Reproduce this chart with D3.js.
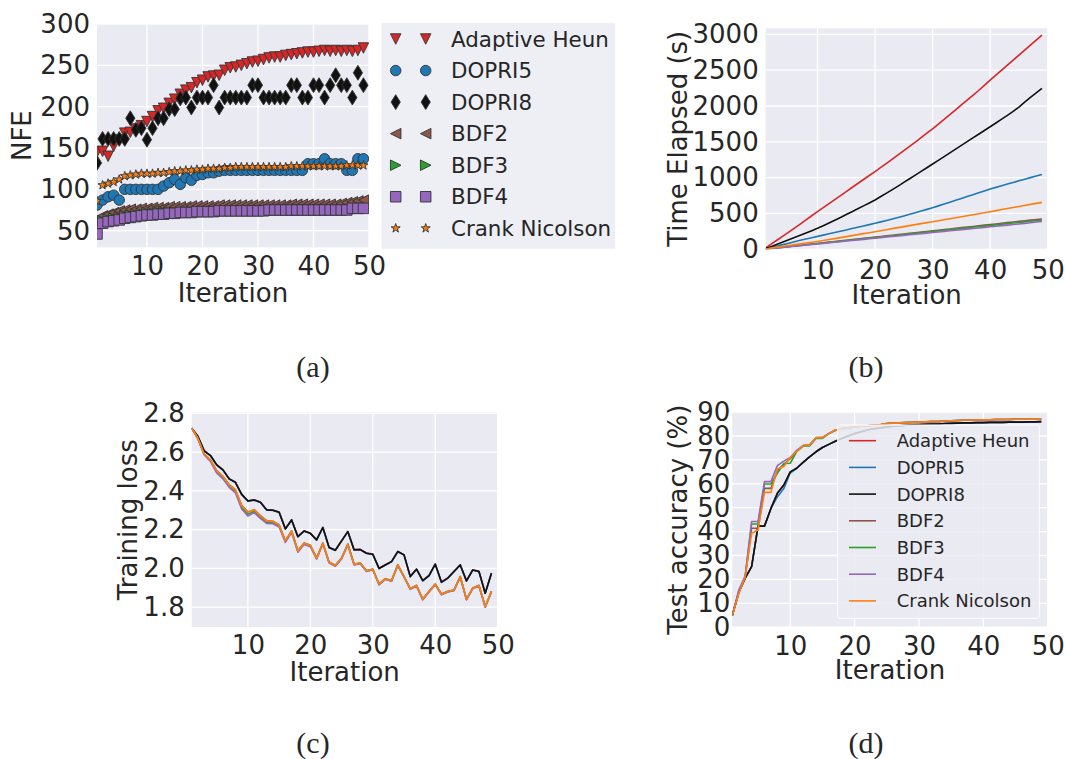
<!DOCTYPE html>
<html>
<head>
<meta charset="utf-8">
<script src="https://cdn.jsdelivr.net/npm/d3@7"></script>
<style>
  html, body { margin: 0; padding: 0; background: #fff; }
  svg { display: block; }
  text { font-family: "DejaVu Sans", sans-serif; fill: #262626; }
  .caption { font-family: "Liberation Serif", "DejaVu Serif", serif; }
</style>
</head>
<body>
<svg id="fig" width="1065" height="759"></svg>
<script>
// ---------------- data ----------------
const iterations = [1,2,3,4,5,6,7,8,9,10,11,12,13,14,15,16,17,18,19,20,21,22,23,24,25,
  26,27,28,29,30,31,32,33,34,35,36,37,38,39,40,41,42,43,44,45,46,47,48,49];

const solvers = ["Adaptive Heun", "DOPRI5", "DOPRI8", "BDF2", "BDF3", "BDF4", "Crank Nicolson"];
const solverColors = ["#d62728", "#1f77b4", "#111111", "#8c564b", "#2ca02c", "#9467bd", "#ff7f0e"];
const solverMarkers = ["triangleDown", "circle", "thinDiamond", "triangleLeft", "triangleRight", "square", "star"];

const xTicks = [10, 20, 30, 40, 50];
const nfeTicks = [50, 100, 150, 200, 250, 300];
const timeTicks = [0, 500, 1000, 1500, 2000, 2500, 3000];
const lossTicks = [1.8, 2.0, 2.2, 2.4, 2.6, 2.8];
const accTicks = [0, 10, 20, 30, 40, 50, 60, 70, 80, 90];

// number of function evaluations per iteration
const heunNFE = [145,146,140,152,160,168,169,173,177,182,188,195,198,204,209,215,220,223,229,232,
  236,237,238,244,247,248,250,252,254,255,257,259,260,260,262,263,264,265,266,266,
  267,268,267,268,267,268,267,268,271];
const dopri5NFE = [81,87,91,93,87,100,100,100,100,100,100,100,104,108,112,106,114,111,117,118,
  120,120,122,123,123,123,123,123,123,123,123,123,123,123,123,123,123,123,131,131,
  131,137,131,131,131,123,123,137,137];
const dopri8NFE = [132,161,161,161,161,161,186,172,174,160,174,186,186,197,197,210,211,199,211,211,
  211,226,199,211,211,211,211,211,226,226,211,211,211,211,211,226,226,211,211,226,
  226,211,226,238,226,226,211,241,226];
const bdf2NFE = [64,68,70,72,74,75,76,76,77,77,78,78,78,79,79,79,79,80,80,80,
  80,80,81,81,81,81,81,81,81,81,81,81,81,81,81,82,82,82,82,82,
  82,82,82,82,83,84,85,86,87];
const bdf3NFE = [47,62,64,65,66,68,69,70,71,72,72,73,73,73,72,72,72,72,73,73,
  73,73,74,74,74,74,74,74,74,74,74,75,75,75,75,75,75,75,75,75,
  75,75,75,75,75,75,77,77,77];
const bdf4NFE = [46,59,61,62,63,65,66,67,68,69,69,70,70,71,71,72,72,72,73,73,
  73,73,74,74,74,74,74,74,74,74,74,75,75,75,75,75,75,75,75,75,
  75,75,75,75,75,75,77,77,77];
const cnNFE = [86,105,107,109,112,116,117,118,119,119,119,120,120,121,122,122,123,123,124,124,
  125,125,125,126,126,127,127,127,127,127,127,127,127,127,127,128,128,128,128,128,
  128,128,128,128,128,129,129,129,129];

// cumulative wall-clock time (s)
const heunTime = [20,75,130,185,240,295,352,410,468,525,582,638,694,750,806,862,918,974,1030,1085,
  1142,1200,1258,1317,1376,1436,1497,1558,1620,1682,1748,1814,1880,1947,2014,2081,2148,2216,2288,2360,
  2430,2500,2570,2640,2710,2780,2850,2920,2990];
const dopri5Time = [5,25,45,65,85,105,125,143,162,180,198,216,234,252,270,289,307,326,344,363,
  383,403,424,445,466,488,510,533,557,581,606,632,658,684,710,736,762,788,814,841,
  864,887,910,933,956,978,1000,1022,1045];
const dopri8Time = [10,40,71,102,133,164,196,228,260,293,330,368,406,445,485,525,565,606,647,688,
  736,784,833,882,933,984,1035,1087,1138,1190,1242,1294,1346,1398,1450,1502,1554,1606,1658,1710,
  1763,1816,1870,1924,1985,2055,2120,2183,2246];
const bdf2Time = [3,12,21,30,38,47,56,65,73,82,91,100,108,117,126,135,143,152,161,170,
  178,187,196,205,214,222,231,240,249,258,266,275,284,293,302,310,319,328,337,346,
  354,363,372,381,390,398,407,415,423];
const bdf3Time = [3,11,20,28,37,45,54,62,71,79,88,96,104,113,121,130,138,147,155,164,
  172,180,189,197,206,214,223,231,240,248,256,265,273,282,290,299,307,316,324,332,
  341,349,358,366,375,383,392,398,405];
const bdf4Time = [3,11,19,27,35,43,51,59,67,75,83,91,99,107,115,123,131,139,147,155,
  163,171,178,186,194,202,210,218,226,234,242,250,258,266,274,282,290,298,306,314,
  322,330,338,346,354,362,370,380,390];
const cnTime = [5,17,29,41,53,65,76,87,98,110,123,136,149,163,177,191,205,219,232,246,
  260,274,288,302,316,330,344,358,372,385,399,413,427,441,455,469,483,497,511,525,
  540,555,570,584,598,612,627,641,655];

// training loss
const heunLoss = [2.723,2.681,2.607,2.583,2.535,2.509,2.463,2.445,2.383,2.349,2.354,2.342,2.303,2.301,2.291,2.205,2.251,2.165,2.194,2.182,
  2.148,2.212,2.109,2.095,2.143,2.191,2.097,2.098,2.079,2.074,2.001,2.019,2.036,2.088,2.071,1.959,1.997,1.938,1.964,2.023,
  1.930,1.951,1.985,2.019,1.937,1.993,1.985,1.873,1.976];
const dopri5Loss = [2.723,2.680,2.606,2.582,2.533,2.507,2.461,2.443,2.381,2.347,2.352,2.340,2.301,2.299,2.289,2.203,2.249,2.163,2.192,2.180,
  2.146,2.210,2.107,2.093,2.141,2.189,2.095,2.096,2.077,2.072,1.999,2.017,2.034,2.086,2.069,1.957,1.995,1.936,1.962,2.021,
  1.928,1.949,1.983,2.017,1.935,1.991,1.983,1.871,1.974];
const dopri8Loss = [2.723,2.680,2.606,2.582,2.534,2.508,2.462,2.444,2.382,2.348,2.353,2.341,2.302,2.300,2.290,2.204,2.250,2.164,2.193,2.181,
  2.147,2.211,2.108,2.094,2.142,2.190,2.096,2.097,2.078,2.073,2.000,2.018,2.035,2.087,2.070,1.958,1.996,1.937,1.963,2.022,
  1.929,1.950,1.984,2.018,1.936,1.992,1.984,1.872,1.975];
const bdf2Loss = [2.723,2.671,2.590,2.560,2.504,2.475,2.432,2.406,2.325,2.291,2.303,2.272,2.246,2.243,2.225,2.143,2.194,2.091,2.131,2.119,
  2.054,2.131,2.033,2.016,2.054,2.126,2.023,2.028,1.988,1.997,1.920,1.947,1.938,2.019,1.959,1.896,1.913,1.842,1.882,1.920,
  1.868,1.882,1.889,1.959,1.842,1.899,1.913,1.804,1.882];
const bdf3Loss = [2.723,2.670,2.588,2.557,2.500,2.470,2.426,2.398,2.316,2.280,2.294,2.264,2.238,2.237,2.220,2.139,2.190,2.088,2.128,2.116,
  2.052,2.129,2.031,2.014,2.052,2.124,2.021,2.026,1.986,1.995,1.918,1.945,1.936,2.017,1.957,1.894,1.911,1.840,1.880,1.918,
  1.866,1.880,1.887,1.957,1.840,1.897,1.911,1.802,1.880];
const bdf4Loss = [2.723,2.668,2.585,2.552,2.492,2.462,2.418,2.390,2.306,2.270,2.288,2.258,2.232,2.230,2.214,2.134,2.186,2.084,2.124,2.112,
  2.048,2.126,2.028,2.011,2.049,2.121,2.018,2.024,1.984,1.993,1.915,1.943,1.934,2.015,1.955,1.892,1.909,1.838,1.878,1.916,
  1.864,1.878,1.885,1.955,1.838,1.895,1.909,1.800,1.878];
const cnLoss = [2.723,2.670,2.589,2.559,2.503,2.474,2.431,2.405,2.324,2.290,2.302,2.271,2.245,2.242,2.224,2.142,2.193,2.090,2.130,2.118,
  2.053,2.130,2.032,2.015,2.053,2.125,2.022,2.027,1.987,1.996,1.919,1.946,1.937,2.018,1.958,1.895,1.912,1.841,1.881,1.919,
  1.867,1.881,1.888,1.958,1.841,1.898,1.912,1.803,1.881];

// test accuracy (%)
const heunAcc = [5,14.5,20.5,25.3,42.3,42.3,49.7,56,59.5,65,66.5,69,71.3,73.4,75.2,76.5,77.8,79,80,81,
  81.8,82.5,83,83.4,83.8,84.1,84.3,84.5,84.7,84.8,84.9,85,85,85.2,85.3,85.4,85.5,85.5,85.6,85.6,
  85.7,85.7,85.7,85.8,85.8,85.8,85.9,85.9,86];
const dopri5Acc = [5,14.5,20.5,25.3,42.3,42.3,49.7,54.5,58,64.5,66.5,69,71.3,73.4,75.2,76.5,77.8,79,80,81,
  81.8,82.5,83,83.4,83.8,84.1,84.3,84.5,84.7,84.8,84.9,85,85,85.2,85.3,85.4,85.5,85.5,85.6,85.6,
  85.7,85.7,85.7,85.8,85.8,85.8,85.9,85.9,86];
const dopri8Acc = [5,14.5,20.5,25.3,42.3,42.3,49.7,56,59.5,65,66.5,69,71.3,73.4,75.2,76.5,77.8,79,80,81,
  81.8,82.5,83,83.4,83.8,84.1,84.3,84.5,84.7,84.8,84.9,85,85,85.2,85.3,85.4,85.5,85.5,85.6,85.6,
  85.7,85.7,85.7,85.8,85.8,85.8,85.9,85.9,86];
const bdf2Acc = [5,14.5,21,41.4,41.4,58.1,58.1,65.5,68,70.5,73.5,76,76.2,79.2,79.3,81,82.4,83,83.4,83.8,
  84.1,84.3,84.5,84.7,85.2,85.4,85.5,85.6,85.7,85.8,85.9,86,86,86.3,86.4,86.5,86.6,86.7,86.7,86.8,
  86.8,86.9,86.9,86.9,87,87,87,87,87];
const bdf3Acc = [5,14.5,21.2,43.2,43.2,59.9,59.9,64.4,68.5,68.6,73.5,75.8,75.8,79,79,81,82.3,83,83.4,83.8,
  84.1,84.3,84.5,84.7,85.2,85.4,85.5,85.6,85.7,85.8,85.9,86,86,86.3,86.4,86.5,86.6,86.7,86.7,86.8,
  86.8,86.9,86.9,86.9,87,87,87,87,87];
const bdf4Acc = [5,15.5,21.5,44.2,44.2,60.9,60.9,67.6,69.5,71,74,76,76.2,79.3,79.3,81.1,82.5,83,83.4,83.8,
  84.1,84.3,84.5,84.7,85.2,85.4,85.5,85.6,85.7,85.8,85.9,86,86,86.3,86.4,86.5,86.6,86.7,86.7,86.8,
  86.8,86.9,86.9,86.9,87,87,87,87,87];
const cnAcc = [5,14,21,39.3,40.7,56.4,56.4,66.2,67.2,71,73.5,76,76.2,79.3,79.3,81,82.5,83,83.4,83.8,
  84.1,84.3,84.5,84.7,85.2,85.4,85.5,85.6,85.7,85.8,85.9,86,86,86.3,86.4,86.5,86.6,86.7,86.7,86.8,
  86.8,86.9,86.9,86.9,87,87,87,87,87];

const nfeSeries = [heunNFE, dopri5NFE, dopri8NFE, bdf2NFE, bdf3NFE, bdf4NFE, cnNFE];
const timeSeries = [heunTime, dopri5Time, dopri8Time, bdf2Time, bdf3Time, bdf4Time, cnTime];
const lossSeries = [heunLoss, dopri5Loss, dopri8Loss, bdf2Loss, bdf3Loss, bdf4Loss, cnLoss];
const accSeries = [heunAcc, dopri5Acc, dopri8Acc, bdf2Acc, bdf3Acc, bdf4Acc, cnAcc];

// ---------------- drawing ----------------
const svg = d3.select("#fig");
svg.append("rect").attr("width", 1065).attr("height", 759).attr("fill", "#fff");

const AXES_BG = "#eaeaf2";
const TEXT = "#262626";

function markerPath(type, s) {
  const h = s / 2;
  switch (type) {
    case "triangleDown": return `M0,${h}L${-h},${-h}L${h},${-h}Z`;
    case "triangleLeft": return `M${-h},0L${h},${-h}L${h},${h}Z`;
    case "triangleRight": return `M${h},0L${-h},${-h}L${-h},${h}Z`;
    case "circle": return d3.symbol(d3.symbolCircle, Math.PI * h * h)();
    case "thinDiamond": { const dy = s * 0.7071, dx = dy * 0.62; return `M0,${-dy}L${dx},0L0,${dy}L${-dx},0Z`; }
    case "square": return `M${-h},${-h}H${h}V${h}H${-h}Z`;
    case "star": {
      let p = "";
      const R = h, r = R * 0.381966;
      for (let k = 0; k < 10; k++) {
        const a = -Math.PI / 2 + k * Math.PI / 5;
        const rr = k % 2 ? r : R;
        p += (k ? "L" : "M") + (rr * Math.cos(a)).toFixed(2) + "," + (rr * Math.sin(a)).toFixed(2);
      }
      return p + "Z";
    }
  }
}
const markerSize = t => (t === "star" ? 9.5 : 10.5);

let clipCount = 0;
function panel(cfg) {
  const g = svg.append("g");
  const x = d3.scaleLinear().domain([1, 50]).range([cfg.left, cfg.right]);
  const y = d3.scaleLinear().domain(cfg.yDomain).range([cfg.bottom, cfg.top]);

  g.append("rect")
    .attr("x", cfg.left).attr("y", cfg.top)
    .attr("width", cfg.right - cfg.left).attr("height", cfg.bottom - cfg.top)
    .attr("fill", AXES_BG);

  // white grid
  g.append("g").selectAll("line").data(xTicks).join("line")
    .attr("x1", d => x(d)).attr("x2", d => x(d))
    .attr("y1", cfg.top).attr("y2", cfg.bottom)
    .attr("stroke", "#fff").attr("stroke-width", 1.3);
  g.append("g").selectAll("line").data(cfg.yTicks).join("line")
    .attr("x1", cfg.left).attr("x2", cfg.right)
    .attr("y1", d => y(d)).attr("y2", d => y(d))
    .attr("stroke", "#fff").attr("stroke-width", 1.3);

  // tick labels
  const xa = g.append("g").attr("transform", `translate(0,${cfg.bottom})`)
    .call(d3.axisBottom(x).tickValues(xTicks).tickSize(0).tickPadding(cfg.xPad ?? 9).tickFormat(d3.format("d")));
  const ya = g.append("g").attr("transform", `translate(${cfg.left},0)`)
    .call(d3.axisLeft(y).tickValues(cfg.yTicks).tickSize(0).tickPadding(cfg.yPad ?? 7).tickFormat(cfg.yFormat));
  [xa, ya].forEach(a => {
    a.select(".domain").remove();
    a.attr("font-family", null).attr("font-size", null);
    a.selectAll("text").attr("font-size", 26).attr("fill", TEXT)
      .style("font-family", '"DejaVu Sans", sans-serif');
  });

  // axis titles
  g.append("text")
    .attr("x", (cfg.left + cfg.right) / 2).attr("y", cfg.xLabelY)
    .attr("text-anchor", "middle").attr("font-size", 26).text("Iteration");
  g.append("text")
    .attr("transform", `translate(${cfg.yLabelX},${(cfg.top + cfg.bottom) / 2}) rotate(-90)`)
    .attr("text-anchor", "middle").attr("font-size", 26).text(cfg.yLabel);

  const id = "clip" + (clipCount++);
  svg.append("clipPath").attr("id", id).append("rect")
    .attr("x", cfg.left).attr("y", cfg.top)
    .attr("width", cfg.right - cfg.left).attr("height", cfg.bottom - cfg.top);
  const plot = g.append("g").attr("clip-path", `url(#${id})`);
  return { g, plot, x, y };
}

function caption(label, cx, baseline) {
  svg.append("text").attr("class", "caption")
    .attr("x", cx).attr("y", baseline).attr("text-anchor", "middle")
    .attr("font-size", 30).style("font-family", '"Liberation Serif", serif')
    .text(label);
}

// (a) NFE per iteration, markers only
{
  const p = panel({ left: 97, right: 369, top: 24, bottom: 247.3, yDomain: [29.9, 300],
    yTicks: nfeTicks, yFormat: d3.format("d"), yLabel: "NFE", yLabelX: 31, xLabelY: 302 });
  nfeSeries.forEach((vals, s) => {
    const t = solverMarkers[s];
    p.plot.append("g").selectAll("path").data(vals).join("path")
      .attr("d", markerPath(t, markerSize(t)))
      .attr("transform", (v, i) => `translate(${p.x(iterations[i])},${p.y(v)})`)
      .attr("fill", solverColors[s]).attr("stroke", "#333").attr("stroke-width", 0.9);
  });
  // legend outside the axes
  const lg = svg.append("g");
  lg.append("rect").attr("x", 381).attr("y", 22.3).attr("width", 234.7).attr("height", 227)
    .attr("fill", AXES_BG).attr("fill-opacity", 0.8).attr("stroke", "#fff");
  solvers.forEach((name, s) => {
    const cy = 39 + s * 31.55;
    const t = solverMarkers[s];
    [395.7, 425.7].forEach(mx => {
      lg.append("path").attr("d", markerPath(t, markerSize(t)))
        .attr("transform", `translate(${mx},${cy})`)
        .attr("fill", solverColors[s]).attr("stroke", "#333").attr("stroke-width", 0.9);
    });
    lg.append("text").attr("x", 451).attr("y", cy).attr("dy", "0.36em")
      .attr("font-size", 21.4).text(name);
  });
}

// line-panel helper
function drawLines(p, series) {
  series.forEach((vals, s) => {
    const line = d3.line().x((v, i) => p.x(iterations[i])).y(v => p.y(v));
    p.plot.append("path").datum(vals).attr("d", line)
      .attr("fill", "none").attr("stroke", solverColors[s]).attr("stroke-width", 1.6)
      .attr("stroke-linejoin", "round");
  });
}

// (b) wall-clock time
{
  const p = panel({ left: 765.7, right: 1047.7, top: 28.3, bottom: 249.3, yDomain: [0, 3084],
    yTicks: timeTicks, yFormat: d3.format("d"), yLabel: "Time Elapsed (s)", yLabelX: 687, xLabelY: 304, xPad: 11 });
  drawLines(p, timeSeries);
}

// (c) training loss
{
  const p = panel({ left: 191.7, right: 497.7, top: 412.5, bottom: 627, yDomain: [1.698, 2.804],
    yTicks: lossTicks, yFormat: d3.format(".1f"), yLabel: "Training loss", yLabelX: 137, xLabelY: 681 });
  drawLines(p, lossSeries);
}

// (d) test accuracy with in-axes legend
{
  const p = panel({ left: 732.3, right: 1047.7, top: 412.1, bottom: 627.2, yDomain: [0, 90],
    yTicks: accTicks, yFormat: d3.format("d"), yLabel: "Test accuracy (%)", yLabelX: 687, xLabelY: 679, yPad: 2 });
  drawLines(p, accSeries);
  const lg = svg.append("g");
  lg.append("rect").attr("x", 837.7).attr("y", 425).attr("width", 201.6).attr("height", 193.3)
    .attr("fill", AXES_BG).attr("fill-opacity", 0.85).attr("stroke", "#fff").attr("rx", 2);
  solvers.forEach((name, s) => {
    const cy = 440.7 + s * 26.7;
    lg.append("line").attr("x1", 849).attr("x2", 876).attr("y1", cy).attr("y2", cy)
      .attr("stroke", solverColors[s]).attr("stroke-width", 1.6);
    lg.append("text").attr("x", 896.7).attr("y", cy).attr("dy", "0.36em")
      .attr("font-size", 18).text(name);
  });
}

caption("(a)", 313, 377);
caption("(b)", 866, 377);
caption("(c)", 313, 753);
caption("(d)", 866, 753);
</script>
</body>
</html>
